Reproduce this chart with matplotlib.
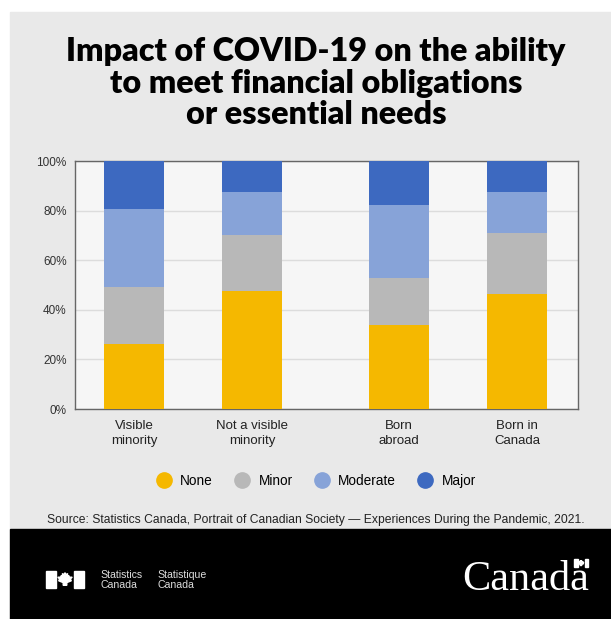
import numpy as np
import matplotlib.pyplot as plt
from matplotlib.patches import Rectangle, Polygon
from matplotlib.lines import Line2D

# share of people by impact level (%)
groups = ['Visible\nminority', 'Not a visible\nminority', 'Born\nabroad', 'Born in\nCanada']
none_pct = [26.2, 47.6, 33.9, 46.2]
minor_pct = [23.1, 22.6, 19.0, 24.6]
moderate_pct = [31.2, 17.3, 29.2, 16.7]
major_pct = [19.5, 12.5, 17.9, 12.5]
levels = ['None', 'Minor', 'Moderate', 'Major']
colors = ['#f5b800', '#b8b8b8', '#87a3d8', '#3d69c0']

xpos = np.array([0, 1, 2.246, 3.246])

W, H = 611, 619
fig = plt.figure(figsize=(W / 100, H / 100), dpi=100)
fig.patch.set_facecolor('white')

def fx(px):
    return px / W

def fy(py):
    return 1 - py / H

def add_rect(x0, y0, x1, y1, color, z=-1):
    # pixel box -> figure rectangle
    fig.patches.append(Rectangle((fx(x0), fy(y1)), fx(x1 - x0), fy(y0) - fy(y1),
                                 transform=fig.transFigure, color=color, zorder=z))

def add_leaf(cx, cy, s):
    pts = np.array([[0, 7], [0, 4], [-5, 2], [-4, 0], [-6, -2], [-3, -2], [-2, -4],
                    [0, -2], [-1, -6], [1, -5], [2, -7], [3, -5], [5, -6], [4, -2],
                    [6, -4], [7, -2], [10, -2], [8, 0], [9, 2], [4, 4], [4, 7]], float)
    pts[:, 0] -= 2
    pts = pts * s
    fig.patches.append(Polygon(np.column_stack([fx(cx + pts[:, 0]), fy(cy + pts[:, 1])]),
                               transform=fig.transFigure, color='white', zorder=1))

# grey panel and black footer
add_rect(10, 12, 611, 529, '#e9e9e9')
add_rect(10, 529, 611, 619, 'black')

fig.text(fx(316), fy(83), 'Impact of COVID-19 on the ability\nto meet financial obligations\nor essential needs',
         ha='center', va='center', fontsize=23.2, fontweight='heavy', family='Lato',
         linespacing=1.1, color='black')

ax = fig.add_axes([fx(75), fy(409), fx(578 - 75), fy(161) - fy(409)])
ax.set_facecolor('#f6f6f6')

bottom = np.zeros(len(groups))
for vals, lab, c in zip([none_pct, minor_pct, moderate_pct, major_pct], levels, colors):
    ax.bar(xpos, vals, 0.51, bottom=bottom, color=c, label=lab, zorder=3)
    bottom += np.array(vals)

ax.set_xlim(-0.5, 3.763)
ax.set_ylim(0, 100)
ax.set_yticks(range(0, 101, 20))
ax.set_yticklabels([f'{v}%' for v in range(0, 101, 20)], fontsize=8.5, color='#333333',
                   family='Liberation Sans')
ax.set_xticks(xpos)
ax.set_xticklabels(groups, fontsize=9.5, color='#222222', family='Liberation Sans', linespacing=1.35)
ax.tick_params(axis='x', length=0, pad=8)
ax.tick_params(axis='y', length=0, pad=6)
ax.grid(axis='y', color='#dcdcdc', lw=1, zorder=0)
for s in ax.spines.values():
    s.set_color('#666666')
    s.set_linewidth(1)

handles = [Line2D([0], [0], marker='o', ls='', markersize=11, markerfacecolor=c, markeredgecolor=c)
           for c in colors]
fig.legend(handles, levels, loc='center', bbox_to_anchor=(fx(313), fy(481)), ncol=4, frameon=False,
           handletextpad=0.2, columnspacing=1.15, prop={'family': 'Liberation Sans', 'size': 9.8})

fig.text(fx(316), fy(520), 'Source: Statistics Canada, Portrait of Canadian Society \u2014 Experiences During the Pandemic, 2021.',
         ha='center', va='center', fontsize=8.7, family='Liberation Sans', color='#222222')

# footer signature
add_rect(46, 571, 56, 588, 'white', 1)
add_rect(74, 571, 84, 588, 'white', 1)
add_leaf(65, 579, 0.9)
fig.text(fx(100), fy(580), 'Statistics\nCanada', ha='left', va='center', fontsize=7.6,
         family='Liberation Sans', color='#dddddd', linespacing=1.0)
fig.text(fx(157), fy(580), 'Statistique\nCanada', ha='left', va='center', fontsize=7.6,
         family='Liberation Sans', color='#dddddd', linespacing=1.0)
fig.text(fx(589), fy(590), 'Canada', ha='right', va='baseline', fontsize=30.5,
         family='Liberation Serif', color='white')
# small flag over the last letter of the wordmark
add_rect(574, 559, 577.5, 567, 'white', 1)
add_rect(584.5, 559, 588, 567, 'white', 1)
add_leaf(581, 563, 0.36)

fig.savefig('out.png', dpi=100)
